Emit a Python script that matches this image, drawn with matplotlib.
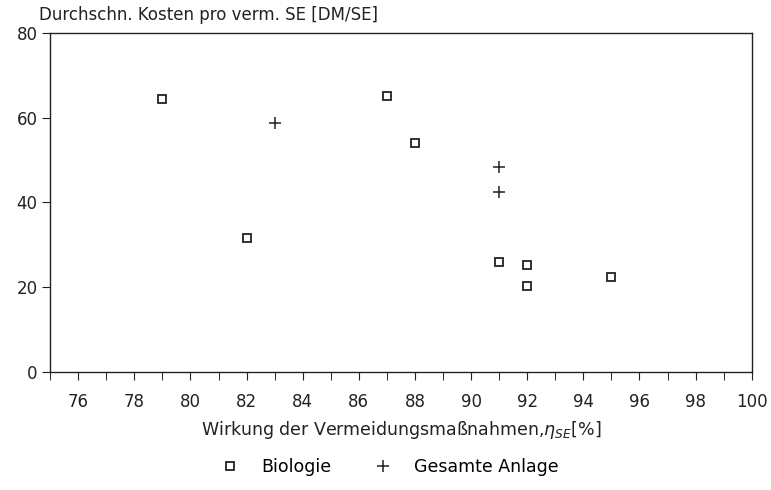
import matplotlib
matplotlib.use('Agg')
import matplotlib.pyplot as plt

# Wirkung der Vermeidungsmassnahmen [%] vs. Kosten [DM/SE]
bio_x = [79, 82, 87, 88, 91, 92, 92, 95]
bio_y = [64.5, 31.5, 65, 54, 26, 25.3, 20.2, 22.5]
ges_x = [83, 91, 91]
ges_y = [58.7, 48.3, 42.4]

plt.rcParams['font.family'] = ['DejaVu Sans']
fig = plt.figure(figsize=(7.71, 4.9), dpi=100)
ax = fig.add_axes([0.065, 0.241, 0.91, 0.692])

ax.plot(bio_x, bio_y, 's', mfc='white', mec='#222222', mew=1.3, ms=6,
        linestyle='none', label='Biologie')
ax.plot(ges_x, ges_y, '+', color='#222222', mew=1.1, ms=9,
        linestyle='none', label='Gesamte Anlage')

ax.set_xlim(75, 100)
ax.set_ylim(0, 80)
ax.set_xticks(range(76, 101, 2))
ax.set_xticks(range(75, 101), minor=True)
ax.set_yticks([0, 20, 40, 60, 80])
ax.tick_params(axis='both', direction='out', colors='#222222', labelsize=12)
ax.tick_params(axis='x', which='both', length=6, pad=9)
ax.tick_params(axis='y', length=6, pad=3)
for s in ax.spines.values():
    s.set_linewidth(1.0)
    s.set_color('#222222')

fig.text(0.05, 0.95, 'Durchschn. Kosten pro verm. SE [DM/SE]', fontsize=12,
         color='#222222', ha='left', va='bottom')
ax.set_xlabel('Wirkung der Vermeidungsmaßnahmen,$\\eta_{SE}$[%]', fontsize=12.5,
              color='#222222', labelpad=6)

fig.legend(loc='center', bbox_to_anchor=(0.5, 0.047), ncol=2, frameon=False,
           fontsize=12.5, handletextpad=0.8, columnspacing=2.0)

fig.savefig('out.png', dpi=100)
